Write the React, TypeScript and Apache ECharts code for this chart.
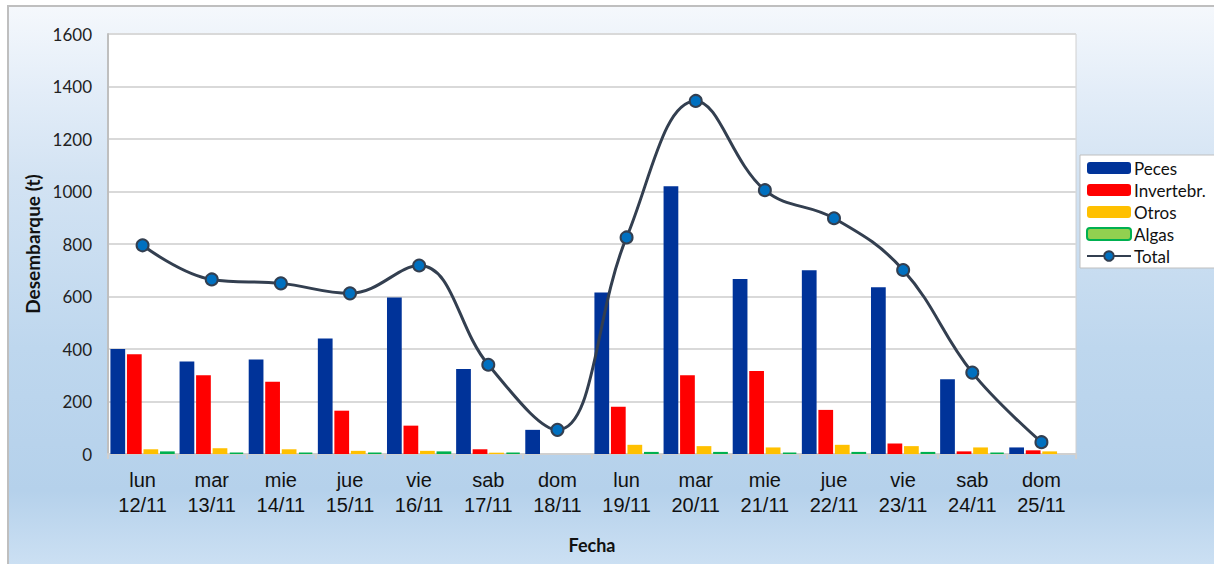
import React, { useEffect, useRef } from "react";
import * as echarts from "echarts";

const categories = [
  "lun\n12/11", "mar\n13/11", "mie\n14/11", "jue\n15/11", "vie\n16/11", "sab\n17/11", "dom\n18/11",
  "lun\n19/11", "mar\n20/11", "mie\n21/11", "jue\n22/11", "vie\n23/11", "sab\n24/11", "dom\n25/11",
];
const peces = [400, 352, 360, 440, 596, 324, 92, 615, 1020, 667, 700, 635, 285, 25];
const invertebr = [380, 300, 275, 165, 108, 18, 0, 180, 300, 316, 168, 40, 10, 14];
const otros = [18, 22, 18, 12, 12, 5, 0, 35, 30, 25, 35, 30, 25, 10];
const algas = [10, 5, 5, 5, 10, 5, 0, 8, 8, 5, 8, 8, 5, 0];
const total = [795, 665, 650, 612, 718, 340, 92, 825, 1345, 1005, 898, 701, 310, 45];
const yTicks = { min: 0, max: 1600, interval: 200 };

const FONT = "Lato, 'Open Sans', sans-serif";
const noZero = (arr: number[]) => arr.map((v) => (v === 0 ? null : v));

export default function App() {
  const ref = useRef<HTMLDivElement>(null);
  useEffect(() => {
    document.body.style.margin = "0";
    const chart = echarts.init(ref.current!, undefined, { renderer: "svg" });
    const barBase = {
      type: "bar" as const,
      barCategoryGap: "7%",
      barGap: "12%",
    };
    chart.setOption({
      animation: false,
      textStyle: { fontFamily: FONT },
      graphic: [
        {
          type: "rect",
          z: -10,
          silent: true,
          shape: { x: 8, y: 6, width: 1220, height: 570 },
          style: {
            fill: new echarts.graphic.LinearGradient(0, 0, 0, 1, [
              { offset: 0, color: "#f5f8fc" },
              { offset: 0.15, color: "#e3edf8" },
              { offset: 0.3, color: "#d3e3f3" },
              { offset: 0.6, color: "#bed7ee" },
              { offset: 0.85, color: "#b5d1eb" },
              { offset: 1, color: "#cfe2f4" },
            ]),
            stroke: "#bfbfbf",
            lineWidth: 2,
          },
        },
      ],
      grid: {
        left: 108,
        top: 34,
        right: 138,
        bottom: 110,
        show: true,
        backgroundColor: "#ffffff",
        borderColor: "#d0d0d0",
        borderWidth: 1,
        containLabel: false,
      },
      legend: {
        orient: "vertical",
        left: 1080,
        top: 155,
        itemWidth: 44,
        itemHeight: 12,
        itemGap: 4,
        backgroundColor: "#ffffff",
        borderColor: "#bfbfbf",
        borderWidth: 1,
        padding: [4, 40, 3, 6],
        textStyle: { fontFamily: FONT, fontSize: 17, lineHeight: 18, color: "#111", padding: [0, 0, 0, -2] },
        data: ["Peces", "Invertebr.", "Otros", "Algas", "Total"],
      },
      xAxis: {
        type: "category",
        data: categories,
        boundaryGap: true,
        axisLine: { lineStyle: { color: "#d0d0d0", width: 2 } },
        axisTick: { show: true, length: 5, lineStyle: { color: "#d0d0d0", width: 2 } },
        axisLabel: {
          color: "#111",
          fontFamily: "'Liberation Sans', Arial, sans-serif",
          fontSize: 20,
          lineHeight: 25,
          margin: 13,
        },
        name: "Fecha",
        nameLocation: "middle",
        nameGap: 82,
        nameTextStyle: { fontFamily: FONT, fontSize: 18, fontWeight: "bold", color: "#111" },
      },
      yAxis: {
        type: "value",
        min: yTicks.min,
        max: yTicks.max,
        interval: yTicks.interval,
        axisLine: { show: true, lineStyle: { color: "#bfbfbf", width: 2 } },
        axisTick: { show: false },
        splitLine: { lineStyle: { color: "#d9d9d9", width: 2 } },
        axisLabel: { color: "#222", fontFamily: FONT, fontSize: 17, margin: 16, formatter: (v: number) => String(v) },
        name: "Desembarque (t)",
        nameLocation: "middle",
        nameGap: 56,
        nameTextStyle: { fontFamily: FONT, fontSize: 19, fontWeight: "bold", color: "#111" },
      },
      series: [
        { ...barBase, name: "Peces", data: noZero(peces), itemStyle: { color: "#003399" } },
        { ...barBase, name: "Invertebr.", data: noZero(invertebr), itemStyle: { color: "#ff0000" } },
        { ...barBase, name: "Otros", data: noZero(otros), itemStyle: { color: "#ffc000" } },
        {
          ...barBase,
          name: "Algas",
          data: noZero(algas),
          itemStyle: { color: "#92d050", borderColor: "#00b050", borderWidth: 1.5 },
        },
        {
          type: "line",
          name: "Total",
          data: total,
          smooth: 0.4,
          symbol: "circle",
          symbolSize: 12,
          lineStyle: { color: "#333f50", width: 3 },
          itemStyle: { color: "#0070c0", borderColor: "#333f50", borderWidth: 2 },
          z: 5,
        },
      ],
    });
    return () => chart.dispose();
  }, []);
  return <div ref={ref} style={{ width: 1214, height: 564 }} />;
}
